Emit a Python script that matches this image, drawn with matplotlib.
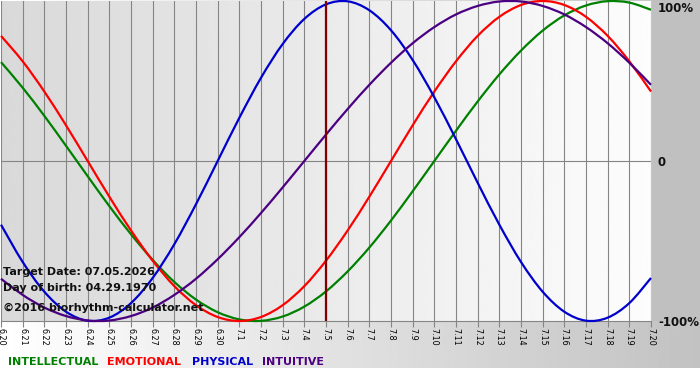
import matplotlib
matplotlib.use("Agg")
import matplotlib.pyplot as plt
from matplotlib.path import Path
from matplotlib.patches import PathPatch
import numpy as np

# days shown on the x axis
day_labels = ["6.20", "6.21", "6.22", "6.23", "6.24", "6.25", "6.26", "6.27", "6.28", "6.29", "6.30",
              "7.1", "7.2", "7.3", "7.4", "7.5", "7.6", "7.7", "7.8", "7.9", "7.10",
              "7.11", "7.12", "7.13", "7.14", "7.15", "7.16", "7.17", "7.18", "7.19", "7.20"]
target_label = "7.5"

# cycle values (-1 .. 1), one per day
intellectual = [0.618, 0.458, 0.282, 0.095, -0.095, -0.282, -0.458, -0.618, -0.756, -0.866, -0.945,
                -0.990, -0.999, -0.972, -0.910, -0.815, -0.690, -0.541, -0.372, -0.189, 0.0,
                0.189, 0.372, 0.541, 0.690, 0.815, 0.910, 0.972, 0.999, 0.990, 0.945]
emotional = [0.782, 0.623, 0.434, 0.223, 0.0, -0.223, -0.434, -0.623, -0.782, -0.901, -0.975,
             -1.0, -0.975, -0.901, -0.782, -0.623, -0.434, -0.223, 0.0, 0.223, 0.434,
             0.623, 0.782, 0.901, 0.975, 1.0, 0.975, 0.901, 0.782, 0.623, 0.434]
physical = [-0.398, -0.631, -0.817, -0.942, -0.998, -0.979, -0.888, -0.731, -0.520, -0.270, 0.0,
            0.270, 0.520, 0.731, 0.888, 0.979, 0.998, 0.942, 0.817, 0.631, 0.398,
            0.136, -0.136, -0.398, -0.631, -0.817, -0.942, -0.998, -0.979, -0.888, -0.731]
intuitive = [-0.736, -0.837, -0.916, -0.969, -0.997, -0.997, -0.969, -0.916, -0.837, -0.736, -0.614,
             -0.476, -0.325, -0.165, 0.0, 0.165, 0.325, 0.476, 0.614, 0.736, 0.837,
             0.916, 0.969, 0.997, 0.997, 0.969, 0.916, 0.837, 0.736, 0.614, 0.476]

series_names = ["INTELLECTUAL", "EMOTIONAL", "PHYSICAL", "INTUITIVE"]
series_colors = ["#008000", "#ff0000", "#0000cc", "#4b0082"]

info_lines = ["Target Date: 07.05.2026", "Day of birth: 04.29.1970", "\u00a92016 biorhythm-calculator.net"]


def smooth_path(xs, ys):
    # cubic bezier through every point (catmull-rom tangents), no extra data points
    xs = np.asarray(xs, float)
    ys = np.asarray(ys, float)
    n = len(xs)
    verts = [(xs[0], ys[0])]
    codes = [Path.MOVETO]
    for i in range(n - 1):
        i0 = max(i - 1, 0)
        i3 = min(i + 2, n - 1)
        c1 = (xs[i] + (xs[i + 1] - xs[i0]) / 6, ys[i] + (ys[i + 1] - ys[i0]) / 6)
        c2 = (xs[i + 1] - (xs[i3] - xs[i]) / 6, ys[i + 1] - (ys[i3] - ys[i]) / 6)
        verts += [c1, c2, (xs[i + 1], ys[i + 1])]
        codes += [Path.CURVE4] * 3
    return Path(verts, codes)


W, H = 700, 380
fig = plt.figure(figsize=(W / 100, H / 100), dpi=100, facecolor="white")

# background: horizontal white -> gray gradient, white strip at the very bottom
bg = fig.add_axes([0, 0, 1, 1], zorder=-5)
bg.set_xlim(0, W)
bg.set_ylim(H, 0)
bg.axis("off")
grad = np.linspace(1.0, 0.76, 256).reshape(1, -1)
bg.imshow(grad, cmap="gray", vmin=0, vmax=1, aspect="auto", extent=(0, W, 368, 0))
bg.fill_between([652, W], 0, 321, color="#c0c0c0", lw=0)

ax = fig.add_axes([1 / W, (H - 321) / H, 650 / W, 320 / H])
ax.set_facecolor("none")
x = np.arange(len(day_labels))
ax.set_xlim(0, len(day_labels) - 1)
ax.set_ylim(-1, 1)

pgrad = np.linspace(0.85, 0.99, 256).reshape(1, -1)
ax.imshow(pgrad, cmap="gray", vmin=0, vmax=1, aspect="auto",
          extent=(0, len(day_labels) - 1, -1, 1), zorder=0)

for xi in x:
    ax.axvline(xi, color="#858585", lw=0.8, zorder=1)
ax.axhline(0, color="#858585", lw=0.8, zorder=1)

for vals, col in zip([intellectual, emotional, physical, intuitive], series_colors):
    ax.add_patch(PathPatch(smooth_path(x, vals), facecolor="none", edgecolor=col,
                           lw=1.6, zorder=3, clip_on=False))

ax.axvline(day_labels.index(target_label), color="#800000", lw=1.6, zorder=4)

for s in ["top", "left", "right"]:
    ax.spines[s].set_visible(False)
ax.spines["bottom"].set_color("#858585")
ax.spines["bottom"].set_linewidth(0.8)
ax.set_yticks([])
ax.set_xticks(x)
ax.set_xticklabels(day_labels, rotation=270, fontsize=5.8, color="#000000")
ax.tick_params(axis="x", length=4, width=0.8, color="#858585", pad=1)

# texts inside the chart, bottom left
for line, ypx in zip(info_lines, [272, 288, 308]):
    fig.text(3 / W, 1 - ypx / H, line, fontsize=8, fontweight="bold",
             color="#111111", va="center", ha="left", zorder=10)

# right-hand scale labels
for lbl, ypx in zip(["100%", "0", "-100%"], [8, 162, 322]):
    fig.text(658 / W, 1 - ypx / H, lbl, fontsize=8.5, fontweight="bold",
             color="#111111", va="center", ha="left")

# legend row
for name, col, xpx in zip(series_names, series_colors, [8, 107, 192, 262]):
    fig.text(xpx / W, 1 - 362 / H, name, fontsize=8, fontweight="bold",
             color=col, va="center", ha="left")

fig.savefig("out.png", dpi=100, facecolor=fig.get_facecolor())
